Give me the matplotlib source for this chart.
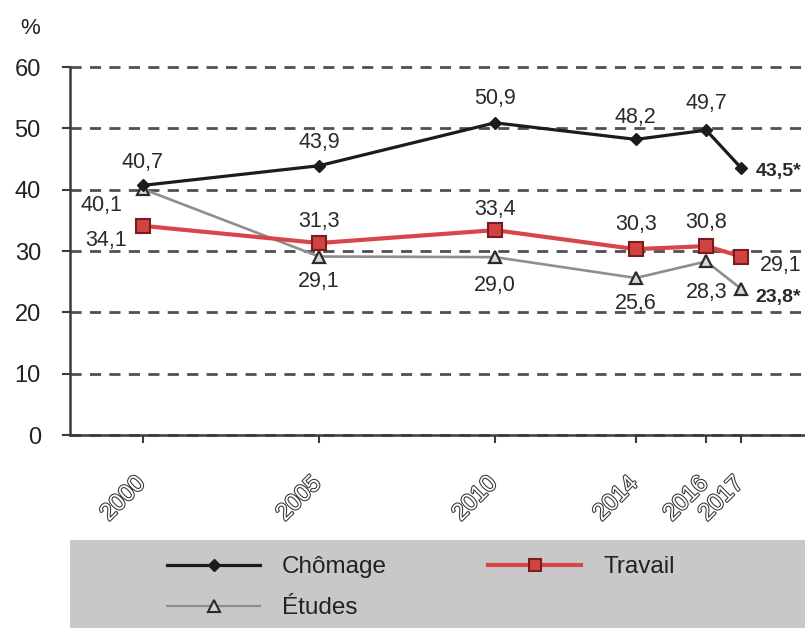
import matplotlib
matplotlib.use("Agg")
import matplotlib.pyplot as plt
import matplotlib.patheffects as pe
import matplotlib.transforms as mtrans
from matplotlib import font_manager
from matplotlib.patches import Rectangle
from matplotlib.lines import Line2D

# Data
years = [2000, 2005, 2010, 2014, 2016, 2017]
chomage = [40.7, 43.9, 50.9, 48.2, 49.7, 43.5]
travail = [34.1, 31.3, 33.4, 30.3, 30.8, 29.1]
etudes = [40.1, 29.1, 29.0, 25.6, 28.3, 23.8]
chomage_labels = ["40,7", "43,9", "50,9", "48,2", "49,7", "43,5*"]
travail_labels = ["34,1", "31,3", "33,4", "30,3", "30,8", "29,1"]
etudes_labels = ["40,1", "29,1", "29,0", "25,6", "28,3", "23,8*"]
yticks = [0, 10, 20, 30, 40, 50, 60]

# pick a condensed face if one is around, else Liberation Sans at a smaller size
installed = {f.name for f in font_manager.fontManager.ttflist}
regular = ["Liberation Sans", "DejaVu Sans"]
if "Liberation Sans Narrow" in installed:
    narrow, lab_fs, leg_fs = ["Liberation Sans Narrow", "DejaVu Sans"], 18, 20
else:
    narrow, lab_fs, leg_fs = regular, 15.5, 17.5

W, H = 805, 628
fig = plt.figure(figsize=(W / 100, H / 100), dpi=100)

# axes placed in pixel terms; the right side runs off the figure like the reference
x0, x_right = 70, 805
y_top, y_bot = 67, 435
ax = fig.add_axes([x0 / W, 1 - y_bot / H, (x_right - x0) / W, (y_bot - y_top) / H])
px_per_year = 35.2
ax.set_xlim(2000 - (143 - x0) / px_per_year, 2000 + (x_right - 143) / px_per_year)
ax.set_ylim(0, 60)

ax.plot(years, chomage, color="#1c1c1c", lw=2.3, marker="D", ms=6,
        mfc="#1c1c1c", mec="#1c1c1c", zorder=5, clip_on=False)
ax.plot(years, travail, color="#d9464a", lw=3, marker="s", ms=10,
        mfc="#cf4440", mec="#7a1c1c", mew=1.5, zorder=4, clip_on=False)
ax.plot(years, etudes, color="#8e8e8e", lw=1.9, marker="^", ms=9,
        mfc="#d8d8d8", mec="#2a2a2a", mew=1.6, zorder=3, clip_on=False)

# y grid
ax.set_yticks(yticks)
ax.grid(axis="y", color="#505050", lw=2, linestyle=(0, (4, 3)))
for gl in ax.get_ygridlines():
    gl.set_clip_on(False)
ax.set_axisbelow(True)

for s in ["top", "right"]:
    ax.spines[s].set_visible(False)
for s in ["left", "bottom"]:
    ax.spines[s].set_color("#3a3a3a")
    ax.spines[s].set_linewidth(1.8)

ax.tick_params(axis="y", length=6, width=1.5, color="#3a3a3a", pad=15)
ax.tick_params(axis="x", length=6, width=1.5, color="#3a3a3a", pad=21)
for lab in ax.get_yticklabels():
    lab.set_fontfamily(regular)
    lab.set_fontsize(17)
    lab.set_color("#222222")

ax.set_xticks(years)
ax.set_xticklabels([str(y) for y in years], rotation=45, ha="right", va="top",
                   rotation_mode="anchor", family=regular, fontsize=17,
                   color="white")
shift = mtrans.ScaledTranslation(-9 / 100, 0, fig.dpi_scale_trans)
for lab in ax.get_xticklabels():
    lab.set_path_effects([pe.withStroke(linewidth=1.5, foreground="#333333")])
    lab.set_transform(lab.get_transform() + shift)

fig.text(30 / W, 1 - 28 / H, "%", fontsize=16, family=regular, color="#222222",
         ha="center", va="center")

# data labels: offsets in pixels (dx, dy up), alignment
def put(xs, ys, labels, offs, bold_last=False):
    for i, (xv, yv, t) in enumerate(zip(xs, ys, labels)):
        dx, dy, ha = offs[i]
        last = bold_last and i == len(xs) - 1
        ax.annotate(t, (xv, yv), xytext=(dx * 0.72, dy * 0.72),
                    textcoords="offset points", ha=ha, va="center",
                    fontsize=lab_fs - 1.5 if last else lab_fs, family=narrow,
                    color="#2a2a2a", fontweight="bold" if last else "normal",
                    annotation_clip=False, zorder=6)

put(years, chomage, chomage_labels,
    [(0, 23, "center"), (0, 23, "center"), (0, 24.5, "center"),
     (0, 22, "center"), (0, 26.5, "center"), (14, -3.5, "left")], bold_last=True)
put(years, travail, travail_labels,
    [(-16, -14.5, "right"), (0, 21.5, "center"), (0, 21, "center"),
     (0, 25, "center"), (0, 24, "center"), (18, -8.5, "left")])
put(years, etudes, etudes_labels,
    [(-21, -16, "right"), (0, -25, "center"), (0, -28, "center"),
     (0, -26, "center"), (0, -31, "center"), (14, -8, "left")], bold_last=True)

# grey legend band
fig.patches.append(Rectangle((70 / W, 0), 1 - 70 / W, 1 - 540 / H,
                             transform=fig.transFigure, facecolor="#c8c8c8",
                             edgecolor="none", zorder=0))

handles = [
    Line2D([], [], color="#1c1c1c", lw=2.3, marker="D", ms=6, mfc="#1c1c1c"),
    Line2D([], [], color="#8e8e8e", lw=1.6, marker="^", ms=8,
           mfc="#d0d0d0", mec="#2a2a2a", mew=1.5),
    Line2D([], [], color="#d9464a", lw=3, marker="s", ms=9,
           mfc="#cf4440", mec="#7a1c1c", mew=1.5),
]
names = ["Chômage", "Études", "Travail"]
em = leg_fs * 100 / 72
fig.legend(handles, names, ncol=2, loc="upper left",
           bbox_to_anchor=(167 / W, 1 - 556 / H), frameon=False,
           prop={"family": narrow, "size": leg_fs}, handlelength=93 / em,
           handletextpad=22 / em, columnspacing=101 / em, labelspacing=0.8,
           borderpad=0, borderaxespad=0, labelcolor="#222222")

fig.savefig("out.png", dpi=100)
